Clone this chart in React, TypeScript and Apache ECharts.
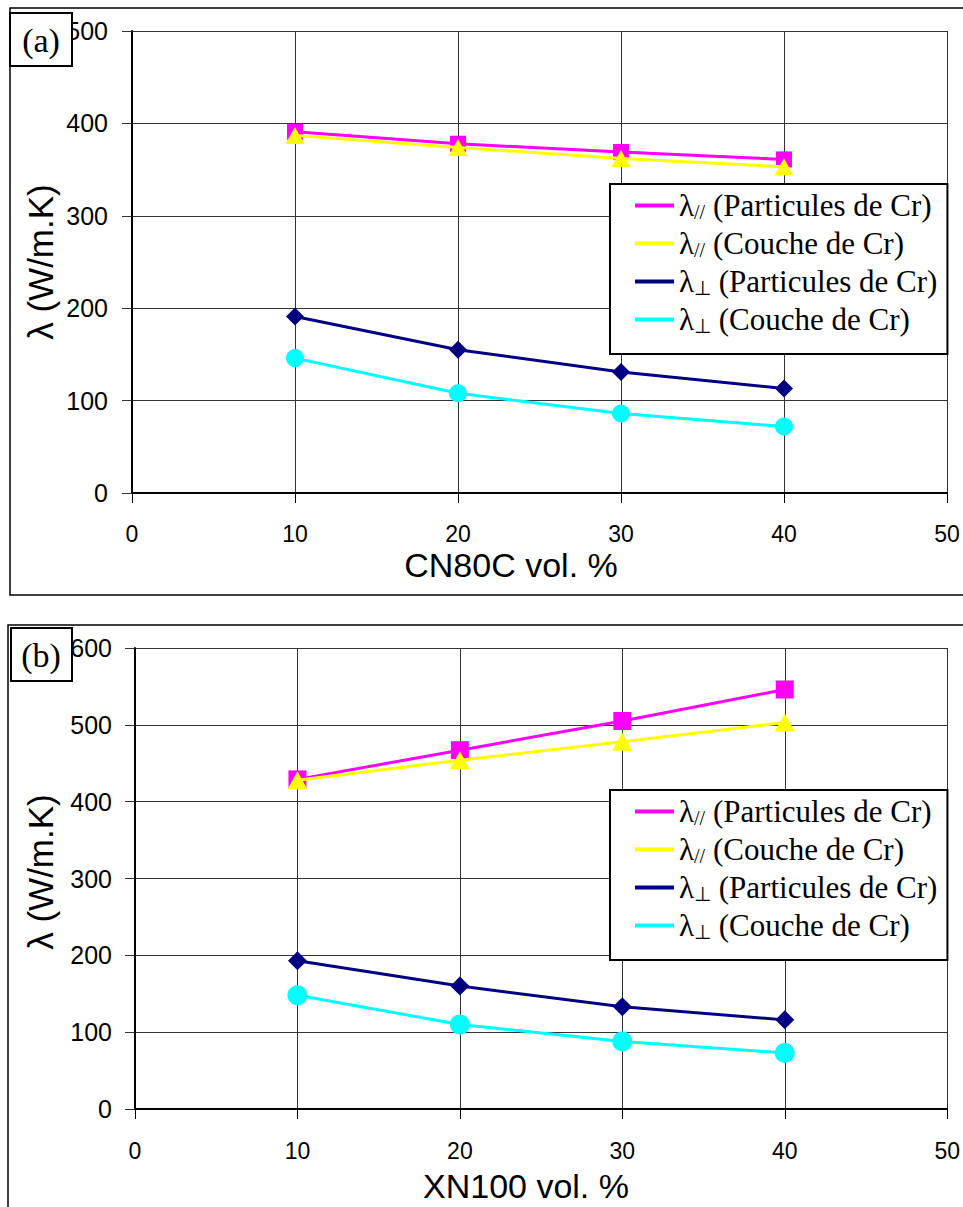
import React, { useEffect, useRef } from "react";
import * as echarts from "echarts";

const xVals = [10, 20, 30, 40];

// Panel (a) : CN80C
const aParPart = [391, 378, 369, 361];
const aParCouche = [387, 374, 362, 353];
const aPerpPart = [191, 155, 131, 113];
const aPerpCouche = [146, 108, 86, 72];

// Panel (b) : XN100
const bParPart = [429, 467, 505, 546];
const bParCouche = [428, 454, 478, 503];
const bPerpPart = [193, 160, 133, 116];
const bPerpCouche = [148, 110, 88, 73];

const seriesNames = [
  "λ// (Particules de Cr)",
  "λ// (Couche de Cr)",
  "λ⊥ (Particules de Cr)",
  "λ⊥ (Couche de Cr)",
];
const colors = ["#FF00FF", "#FFFF00", "#000080", "#00FFFF"];
const symbols = ["rect", "triangle", "diamond", "circle"];
const xTicks = { min: 0, max: 50, interval: 10 };
const panelLabels = ["(a)", "(b)"];
const xNames = ["CN80C vol. %", "XN100 vol. %"];
const yName = "λ (W/m.K)";

const SANS = "Liberation Sans";
const SERIF = "Liberation Serif";

function pairs(vals: number[]) {
  return xVals.map((x, i) => [x, vals[i]]);
}

export default function App() {
  const ref = useRef<HTMLDivElement>(null);
  useEffect(() => {
    if (!ref.current) return;
    const chart = echarts.init(ref.current, null, { renderer: "svg" });

    const symSizesA: any[] = [16, [19, 17], [18, 18], 18];
    const symSizesB: any[] = [18, [20, 18], [19, 19], 20];
    const panelData = [
      [aParPart, aParCouche, aPerpPart, aPerpCouche],
      [bParPart, bParCouche, bPerpPart, bPerpCouche],
    ];

    const series: any[] = [];
    panelData.forEach((sets, p) => {
      sets.forEach((vals, k) => {
        series.push({
          type: "line",
          name: seriesNames[k],
          xAxisIndex: p,
          yAxisIndex: p,
          data: pairs(vals),
          symbol: symbols[k],
          symbolSize: (p === 0 ? symSizesA : symSizesB)[k],
          showSymbol: true,
          lineStyle: { color: colors[k], width: 3 },
          itemStyle: { color: colors[k], borderWidth: 0 },
          z: 3 + k,
        });
      });
    });

    const legendFmt = (name: string) => {
      const sub = name.startsWith("λ//") ? "//" : "⊥";
      const rest = name.slice(name.indexOf(" ") + 1);
      return `{l|λ}{s|${sub}} {t|${rest}}`;
    };
    const legendRich = {
      l: { fontFamily: SERIF, fontSize: 31, lineHeight: 33, color: "#000" },
      s: {
        fontFamily: SERIF,
        fontSize: 20,
        lineHeight: 16,
        verticalAlign: "bottom",
        color: "#000",
      },
      t: { fontFamily: SERIF, fontSize: 31, lineHeight: 33, color: "#000" },
    };

    const mkLegend = (top: number) => ({
      show: true,
      data: seriesNames,
      left: 610,
      top,
      orient: "vertical",
      selectedMode: false,
      icon: "rect",
      itemWidth: 39,
      itemHeight: 4,
      itemGap: 6,
      padding: [6, 10, 18, 25],
      backgroundColor: "#fff",
      borderColor: "#000",
      borderWidth: 2,
      borderRadius: 0,
      formatter: legendFmt,
      textStyle: { fontFamily: SERIF, fontSize: 31, color: "#000", rich: legendRich },
    });

    const grids = [
      { left: 132, top: 31, width: 815, height: 462 },
      { left: 135, top: 648, width: 813, height: 461 },
    ];
    const yMax = [500, 600];
    const xLabelMargin = [29, 30];
    const yLabelMargin = [24, 23];

    const xAxis = grids.map((_, i) => ({
      type: "value",
      gridIndex: i,
      min: xTicks.min,
      max: xTicks.max,
      interval: xTicks.interval,
      axisLine: { show: true, onZero: false, lineStyle: { color: "#000", width: 2 } },
      axisTick: { show: true, length: 10, inside: false, lineStyle: { color: "#000", width: 1 } },
      axisLabel: { fontFamily: SANS, fontSize: 23, color: "#000", margin: xLabelMargin[i] },
      splitLine: { show: true, lineStyle: { color: "#333", width: 1 } },
    }));
    const yAxis = grids.map((_, i) => ({
      type: "value",
      gridIndex: i,
      min: 0,
      max: yMax[i],
      interval: 100,
      axisLine: { show: true, lineStyle: { color: "#000", width: 2 } },
      axisTick: { show: true, length: 10, inside: false, lineStyle: { color: "#333", width: 1 } },
      axisLabel: { fontFamily: SANS, fontSize: 25, color: "#000", margin: yLabelMargin[i] },
      splitLine: { show: true, lineStyle: { color: "#333", width: 1 } },
    }));

    const graphic: any[] = [
      // outer frames
      { type: "rect", z: 0, shape: { x: 10, y: 8, width: 1000, height: 587 }, style: { fill: "none", stroke: "#000", lineWidth: 1.5 } },
      { type: "rect", z: 0, shape: { x: 8, y: 625, width: 1000, height: 700 }, style: { fill: "none", stroke: "#000", lineWidth: 1.5 } },
      // panel label boxes
      { type: "rect", z: 100, shape: { x: 10, y: 13, width: 62, height: 53 }, style: { fill: "#fff", stroke: "#000", lineWidth: 2 } },
      { type: "text", z: 101, x: 41, y: 40, style: { text: panelLabels[0], fontFamily: SERIF, fontSize: 34, fill: "#000", align: "center", verticalAlign: "middle" } },
      { type: "rect", z: 100, shape: { x: 11, y: 628, width: 61, height: 53 }, style: { fill: "#fff", stroke: "#000", lineWidth: 2 } },
      { type: "text", z: 101, x: 41, y: 655, style: { text: panelLabels[1], fontFamily: SERIF, fontSize: 34, fill: "#000", align: "center", verticalAlign: "middle" } },
      // x axis names
      { type: "text", z: 50, x: 511, y: 565, style: { text: xNames[0], fontFamily: SANS, fontSize: 34, fill: "#000", align: "center", verticalAlign: "middle" } },
      { type: "text", z: 50, x: 526, y: 1186, style: { text: xNames[1], fontFamily: SANS, fontSize: 34, fill: "#000", align: "center", verticalAlign: "middle" } },
      // y axis names
      { type: "text", z: 50, x: 40, y: 262, rotation: Math.PI / 2, style: { text: yName, fontFamily: SANS, fontSize: 35, fill: "#000", align: "center", verticalAlign: "middle" } },
      { type: "text", z: 50, x: 40, y: 872, rotation: Math.PI / 2, style: { text: yName, fontFamily: SANS, fontSize: 35, fill: "#000", align: "center", verticalAlign: "middle" } },
    ];

    chart.setOption({
      animation: false,
      backgroundColor: "#fff",
      grid: grids,
      xAxis,
      yAxis,
      legend: [mkLegend(184), mkLegend(790)],
      series,
      graphic,
    });
    return () => chart.dispose();
  }, []);

  return (
    <div
      ref={ref}
      style={{ position: "fixed", left: 0, top: 0, width: 963, height: 1207, background: "#fff" }}
    />
  );
}
